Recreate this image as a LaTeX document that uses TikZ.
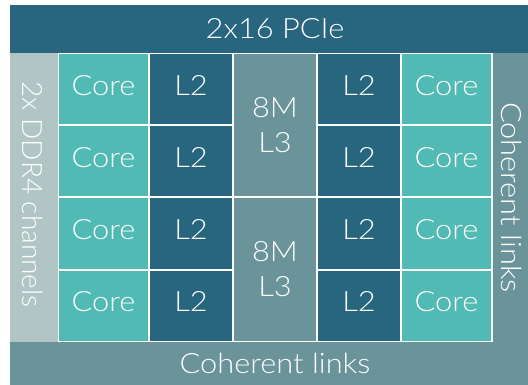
\documentclass[tikz,border=0pt]{standalone}
\usepackage{fontspec}
\setmainfont{Lato Light}[FakeStretch=1.1]
\newfontfamily\ddrfont{Lato Light}
\usetikzlibrary{positioning}
\definecolor{pcieblue}{HTML}{28657F}
\definecolor{coreteal}{HTML}{52BAB5}
\definecolor{cachegray}{HTML}{6A949A}
\definecolor{ddrgray}{HTML}{B0C5C4}

\begin{document}
\begin{tikzpicture}
    [
    x=1pt, y=-1pt,
    block/.style={
        rectangle,
        inner sep=0pt,
        outer sep=0pt,
        text=white,
        font=\fontsize{28}{35}\selectfont,
        align=center % two lines in the L3 boxes
    },
    core/.style={block, fill=coreteal, minimum width=89pt, minimum height=70pt, text depth=9pt},
    ltwo/.style={block, fill=pcieblue, minimum width=82pt, minimum height=70pt, text depth=9pt},
    lthree/.style={block, fill=cachegray, minimum width=82pt, minimum height=142pt},
    txt/.style={block, fill=none},
    ]

    \useasboundingbox (0,0) rectangle (528,385);

    \draw (269,29) node[block, fill=pcieblue, minimum width=518pt, minimum height=48pt] (pcie) {};
    \draw (269,363.5) node[block, fill=cachegray, minimum width=518pt, minimum height=43pt] (linksb) {};
    \draw (34,197.5) node[block, fill=ddrgray, minimum width=48pt, minimum height=289pt] (ddr) {};
    \draw (510,197.5) node[block, fill=cachegray, minimum width=36pt, minimum height=289pt] (linksr) {};
    \draw (275,197.5) node[block, fill=white, minimum width=435pt, minimum height=289pt] (grid) {};

    \draw (103.5,89.5) node[core] (c1) {Core};
    \draw (103.5,161.5) node[core] (c2) {Core};
    \draw (103.5,233.5) node[core] (c3) {Core};
    \draw (103.5,305.5) node[core] (c4) {Core};
    \draw (191,89.5) node[ltwo] (la1) {L2};
    \draw (191,161.5) node[ltwo] (la2) {L2};
    \draw (191,233.5) node[ltwo] (la3) {L2};
    \draw (191,305.5) node[ltwo] (la4) {L2};
    \draw (275,125.5) node[lthree] (l3top) {8M \\ L3};
    \draw (275,269.5) node[lthree] (l3bot) {8M \\ L3};
    \draw (359,89.5) node[ltwo] (lb1) {L2};
    \draw (359,161.5) node[ltwo] (lb2) {L2};
    \draw (359,233.5) node[ltwo] (lb3) {L2};
    \draw (359,305.5) node[ltwo] (lb4) {L2};
    \draw (446.5,89.5) node[core] (c5) {Core};
    \draw (446.5,161.5) node[core] (c6) {Core};
    \draw (446.5,233.5) node[core] (c7) {Core};
    \draw (446.5,305.5) node[core] (c8) {Core};

    \draw (l3top |- pcie) node[txt] (pcietext) {2x16 PCIe};
    \draw (l3top |- linksb) node[txt] (linksbtext) {Coherent links};
    \draw (33,194.5) node[txt, rotate=-90, font=\ddrfont\fontsize{28}{35}\selectfont] (ddrtext) {2x DDR4 channels};
    \draw (512,197.5) node[txt, rotate=-90] (linksrtext) {Coherent links};

\end{tikzpicture}
\end{document}
